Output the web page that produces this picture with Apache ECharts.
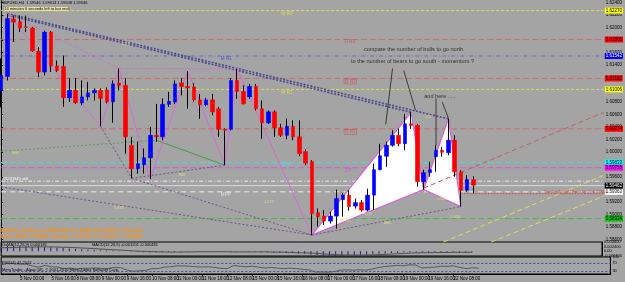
<!DOCTYPE html>
<html><head><meta charset="utf-8">
<script src="https://cdn.jsdelivr.net/npm/echarts@6.0.0/dist/echarts.min.js"></script>
<style>html,body{margin:0;padding:0;background:#a4a4a4;overflow:hidden}#c{width:625px;height:282px}</style>
</head><body><div id="c"></div>
<script>
// ================= DATA =================
const slotCount = 98;
const candleOpen = [1.6099,1.61214,1.62134,1.62094,1.62006,1.6199,1.61614,1.61286,1.61926,1.61382,
1.61374,1.6087,1.6099,1.6079,1.60886,1.6095,1.6099,1.60998,1.60806,1.6111,
1.6107,1.6011,1.59734,1.59798,1.5991,1.6027,1.60246,1.60766,1.60806,1.6111,
1.61054,1.61046,1.60838,1.60758,1.60838,1.60694,1.60366,1.60366,1.6115,1.60974,
1.60886,1.61054,1.60694,1.6047,1.60646,1.6039,1.6027,1.60414,1.60246,1.60006,
1.59846,1.5903,1.58974,1.58894,1.58974,1.59238,1.5931,1.59134,1.5919,1.5907,
1.5931,1.59718,1.59934,1.6011,1.6027,1.60134,1.60454,1.6043,1.59526,1.5967,
1.59926,1.6003,1.5999,1.6019,1.59686,1.5939,1.59558];
const candleClose = [1.6123,1.62142,1.62086,1.6199,1.61998,1.61622,1.61286,1.61926,1.61382,1.6131,
1.6087,1.6099,1.6079,1.60886,1.6095,1.6099,1.60862,1.60806,1.61094,1.6107,
1.60246,1.59734,1.59814,1.5991,1.6027,1.60246,1.60766,1.60814,1.61094,1.61054,
1.6103,1.60838,1.60758,1.60838,1.60646,1.60366,1.6035,1.6115,1.60974,1.60774,
1.61054,1.60694,1.6047,1.60646,1.6039,1.6027,1.60414,1.60246,1.59974,1.59822,
1.59014,1.58966,1.58894,1.58974,1.59254,1.5931,1.59126,1.5919,1.5907,1.5931,
1.59718,1.59942,1.6011,1.6027,1.60134,1.60454,1.6043,1.59526,1.5967,1.59718,
1.6003,1.59998,1.6019,1.59686,1.5939,1.59558,1.5947];
const candleLow = [1.60718,1.6115,1.61766,1.61926,1.61926,1.61606,1.61206,1.6123,1.61286,1.61286,
1.60726,1.60806,1.60774,1.6075,1.6083,1.6083,1.60414,1.60782,1.6047,1.6099,
1.59974,1.5958,1.59654,1.59654,1.5957,1.60166,1.6019,1.60726,1.60774,1.6091,
1.60694,1.60806,1.60534,1.60734,1.6059,1.60246,1.5979,1.6035,1.60854,1.60766,
1.60854,1.6067,1.60214,1.60454,1.60246,1.60246,1.60206,1.6019,1.59934,1.5979,
1.5867,1.58806,1.5883,1.58854,1.58774,1.58966,1.59062,1.59094,1.59046,1.59046,
1.5907,1.5971,1.59766,1.60086,1.60094,1.6003,1.60374,1.59446,1.59398,1.59606,
1.59686,1.59926,1.5995,1.59606,1.59126,1.59366,1.59334];
const candleHigh = [1.61502,1.62222,1.6219,1.6219,1.6219,1.62006,1.61686,1.6195,1.61942,1.6147,
1.6155,1.6119,1.6119,1.6115,1.61126,1.61022,1.61022,1.61038,1.6115,1.61342,
1.6119,1.60246,1.60166,1.6006,1.60406,1.60774,1.60862,1.60966,1.6115,1.6119,
1.61302,1.6111,1.60934,1.6087,1.60934,1.60726,1.6038,1.6119,1.61334,1.6107,
1.61094,1.61094,1.6083,1.6067,1.6067,1.60454,1.60542,1.6051,1.6051,1.60046,
1.5987,1.59094,1.5907,1.59046,1.59398,1.5935,1.5939,1.59254,1.5923,1.59414,
1.59814,1.60134,1.60166,1.6035,1.6038,1.60614,1.60638,1.60454,1.59718,1.59846,
1.6011,1.60086,1.60534,1.6027,1.5971,1.5963,1.59614];

const macdHist = [0.0026,0.0027,0.0027,0.0026,0.0025,0.0024,0.0023,0.0022,0.0021,0.0019,
0.0017,0.0015,0.0013,0.0011,0.0009,0.0007,0.0005,0.0004,0.0003,0.0002,
0.0000,-0.0002,-0.0004,-0.0005,-0.0006,-0.0006,-0.0005,-0.0004,-0.0003,-0.0002,
-0.0002,-0.0001,-0.0001,-0.0002,-0.0002,-0.0003,-0.0004,-0.0003,-0.0002,-0.0002,
-0.0002,-0.0003,-0.0004,-0.0005,-0.0006,-0.0007,-0.0008,-0.0009,-0.0011,-0.0013,
-0.0017,-0.0019,-0.0021,-0.0022,-0.0022,-0.0021,-0.0020,-0.0019,-0.0018,-0.0017,
-0.0015,-0.0013,-0.0011,-0.0009,-0.0007,-0.0005,-0.0005,-0.0006,-0.0006,-0.0006,
-0.0005,-0.0005,-0.0004,-0.0005,-0.0006,-0.0006,-0.0006];
const macdSignal = [0.0018,0.0019,0.0020,0.0021,0.0022,0.0022,0.0023,0.0023,0.0023,0.0022,
0.0021,0.0020,0.0019,0.0017,0.0016,0.0014,0.0012,0.0010,0.0008,0.0007,
0.0005,0.0003,0.0001,0.0000,-0.0001,-0.0002,-0.0003,-0.0004,-0.0004,-0.0004,
-0.0003,-0.0003,-0.0002,-0.0002,-0.0002,-0.0002,-0.0002,-0.0003,-0.0003,-0.0003,
-0.0003,-0.0003,-0.0003,-0.0003,-0.0004,-0.0004,-0.0005,-0.0006,-0.0007,-0.0008,
-0.0009,-0.0011,-0.0013,-0.0015,-0.0017,-0.0018,-0.0019,-0.0019,-0.0019,-0.0019,
-0.0018,-0.0017,-0.0016,-0.0014,-0.0012,-0.0011,-0.0009,-0.0008,-0.0007,-0.0007,
-0.0006,-0.0006,-0.0006,-0.0005,-0.0005,-0.0005,-0.0005];
const rsiValues = [60,68,67,64,64,55,49,58,51,50,
42,44,41,43,44,45,43,42,48,47,
35,29,31,33,42,42,50,51,56,55,
54,51,50,51,48,43,42,57,54,51,
54,49,45,48,44,42,44,42,38,36,
25,25,24,27,34,36,34,36,34,39,
47,52,55,58,56,61,60,45,48,49,
54,53,56,48,42,46,44];

const timeTicks = [[0,'4 Nov 2010'],[3,'5 Nov 00:00'],[8,'5 Nov 16:00'],[12,'8 Nov 08:00'],[16,'9 Nov 00:00'],
[20,'9 Nov 16:00'],[24,'10 Nov 08:00'],[28,'11 Nov 00:00'],[32,'11 Nov 16:00'],[36,'12 Nov 08:00'],
[40,'15 Nov 00:00'],[44,'15 Nov 16:00'],[48,'16 Nov 08:00'],[52,'17 Nov 00:00'],[56,'17 Nov 16:00'],
[60,'18 Nov 08:00'],[64,'19 Nov 00:00'],[68,'19 Nov 16:00'],[72,'22 Nov 08:00'],[76,'23 Nov 00:00']];

// pivot levels
const levelPrices = [1.6227,1.61806,1.61542,1.61182,1.61006,1.60374,1.59833,1.5975,1.59534,1.59462,1.59363,1.58934];
const levelNames  = ['W R2','D R3','M R1','D R2','W R1','D R1','WPP','DP','','','MPP','W S1'];
const levelNameAt = [[44.9,1.62222],[55.1,1.61763],[35.2,1.61497],[55.2,1.61134],[44.9,1.60953],[55.2,1.60323],
                     [44.9,1.59798],[55.2,1.59694],null,null,[35.2,1.5931],[54.4,1.58894]];

// ZUP pattern (index, price)
const zupPath1 = [[1,1.62222],[16,1.60414],[19,1.61342],[24,1.5957]];
const zupPath2 = [[24,1.5957],[30,1.61302],[36,1.5979],[38,1.61334],[50,1.5867]];
const zupTriangles = [
  [[50,1.5867],[66,1.60638],[68,1.59398]],
  [[68,1.59398],[72,1.60534],[74,1.59126]]
];
const navyDotted = [[[1,1.62222],[72,1.60534]],[[1,1.62198],[66,1.60638]]];
const pinkDotted = [[[1,1.62222],[19,1.61342]],[[19,1.61342],[38,1.61334]]];
const purpleDotted = [[[0,1.59443],[50,1.5867]],[[16,1.60414],[21,1.5958]],[[21,1.5958],[36,1.5979]],
                      [[21,1.5958],[50,1.5867]],[[50,1.5867],[74,1.59126]]];
const greenDotted = [[[0,1.60014],[25,1.6019]]];
const greenSolid = [[[25,1.6019],[36,1.5979]]];
const redDashed = [[[68,1.59422],[97,1.60638]]];
const yellowDashed = [[[71.2,1.58558],[97,1.5963]],[[78.9,1.58558],[97,1.59294]]];
const redDotted = [[[74,1.59334],[97,1.59334]]];
const blackLines = [[[63,1.61342],[61.9,1.60446]],[[64.8,1.6131],[66.7,1.6067]],[[70,1.60862],[70,1.6011]],[[71,1.60803],[72,1.60542]]];

const noteTexts = ['compare the number of bulls to go north','to the number of bears to go south - momentum ?','and here .....'];
const noteAt = [[58.4,1.61646],[56.3,1.61454],[68.1,1.60894]];
const fibTexts = ['886','886','1.618','1.272','618','886','0.886','1.618','0.5','1.27'];
const fibAt = [[1.75,1.59987],[28.6,1.59638],[18.1,1.59102],[42.3,1.59198],[58.4,1.59006],[61.6,1.58862],[70.2,1.59246],[72.3,1.5896],[68.3,1.60558],[19.4,1.61742]];
const targetText = 'Gartley Target (Point D) @ 1.59334';
const targetAt = [87.4,1.59366];

// ================= STYLE =================
const FONT = 'Liberation Sans, Arial, sans-serif';
const levelColors = ['#dcdc58','#cc6c6c','#6c6cc8','#cc6c6c','#dcdc58','#cc6c6c','#48dede','#d858d8','#eeeeee','#d8d8d8','#eeeeee','#48b848'];
const levelDash = [[3,2],[6,3],[4,2,1,2],[6,3],[3,2],[6,3],[6,3],[6,3],[4,2,1,2],'solid',[5,4],[6,3]];
const levelBox = ['#ffff00','#ff0000','#0000ff','#ff0000','#ffff00','#ff0000','#00ffff','#ff00ff',null,'#000000','#ffffff','#00c000'];
const levelBoxText = ['#000','#000','#fff','#000','#000','#000','#000','#000','#000','#fff','#000','#000'];
const levelNameColors = ['#e6e64a','#d04848','#4040d0','#d04848','#e6e64a','#d04848','#40e8e8','#e040e0','#fff','#fff','#f0f0f0','#c8e060'];
const levelNameBox = [false,false,false,true,false,true,false,false,false,false,false,false];

const cats = Array.from({length: slotCount}, (_, i) => String(i));
const tickMap = {}; timeTicks.forEach(t => tickMap[t[0]] = t[1]);

const series = [];
function segSeries(segs, lineStyle, z) {
  segs.forEach(seg => series.push({type:'line', xAxisIndex:1, yAxisIndex:0, data:seg, symbol:'none',
    lineStyle, silent:true, z, animation:false, clip:true}));
}
levelPrices.forEach((p, k) => {
  series.push({type:'line', xAxisIndex:1, yAxisIndex:0, data:[[0,p],[97,p]], symbol:'none', silent:true, z:1,
    lineStyle:{color:levelColors[k], width:1, type:levelDash[k]},
    endLabel: levelBox[k] ? {show:true, formatter: p.toFixed(5), backgroundColor: levelBox[k], color: levelBoxText[k],
      fontSize:4.5, fontFamily:FONT, padding:[1,1,0,1], distance:1} : {show:false}
  });
});
series.push({type:'custom', xAxisIndex:1, yAxisIndex:0, z:2, silent:true,
  data: zupTriangles.map(t => [t[0][0], t[0][1]]),
  renderItem: (params, api) => {
    const t = zupTriangles[params.dataIndex];
    return {type:'polygon', shape:{points: t.map(pt => api.coord(pt))},
      style:{fill:'#ffffff', stroke:'#d860d8', lineWidth:1.2}};
  }});
segSeries(navyDotted, {color:'#4a4a90', width:1.6, type:[2,1.5]}, 3);
segSeries(pinkDotted, {color:'#d070d0', width:1, type:[2,1.5]}, 3);
segSeries(purpleDotted, {color:'#705090', width:1, type:[2,2]}, 3);
segSeries(greenDotted, {color:'#50a050', width:1, type:[2,2]}, 3);
segSeries(greenSolid, {color:'#40a040', width:1}, 3);
segSeries(redDashed, {color:'#c06060', width:1, type:[5,3]}, 3);
segSeries(yellowDashed, {color:'#e0e060', width:1, type:[5,3]}, 3);
segSeries(redDotted, {color:'#d04040', width:1, type:[1.5,1.5]}, 3);
segSeries([zupPath1, zupPath2], {color:'#d868d8', width:1}, 3);
series.push({type:'candlestick', xAxisIndex:0, yAxisIndex:0, z:4, barWidth:1, silent:true, clip:false,
  data: candleOpen.map((o, i) => [o, candleClose[i], candleLow[i], candleHigh[i]]),
  itemStyle:{color:'#000', color0:'#000', borderColor:'#000', borderColor0:'#000', borderColorDoji:'#000', borderWidth:1}});
series.push({type:'candlestick', xAxisIndex:0, yAxisIndex:0, z:5, barWidth:4, silent:true, clip:false,
  data: candleOpen.map((o, i) => [o, candleClose[i], Math.min(o, candleClose[i]), Math.max(o, candleClose[i])]),
  itemStyle:{color:'#0000ff', color0:'#ff0000', borderColor:'#0000ff', borderColor0:'#ff0000', borderColorDoji:'#000', borderWidth:0.6}});
segSeries(blackLines, {color:'#202020', width:0.8}, 6);
function textSeries(texts, pos, labelFn, z) {
  series.push({type:'scatter', xAxisIndex:1, yAxisIndex:0, symbolSize:0, silent:true, z,
    data: texts.map((t, k) => pos[k] ? {value: pos[k], name: t, label: labelFn(k)} : null).filter(Boolean),
    label:{show:true, position:'right', distance:0, formatter: p => p.name, fontFamily:FONT}});
}
textSeries(noteTexts, noteAt, k => ({color:'#111', fontSize:5.6}), 7);
textSeries(fibTexts, fibAt, k => ({color:'#e8e878', fontSize:4}), 7);
textSeries(levelNames, levelNameAt, k => ({color:levelNameColors[k], fontSize:4.6,
  borderColor: levelNameBox[k] ? levelNameColors[k] : 'transparent', borderWidth: levelNameBox[k] ? 0.6 : 0, padding:[0,1]}), 7);
textSeries([targetText], [targetAt], k => ({color:'#d03030', fontSize:4}), 7);

series.push({type:'bar', xAxisIndex:2, yAxisIndex:1, data:macdHist, barWidth:1, itemStyle:{color:'#1a1a8a'}, silent:true});
series.push({type:'line', xAxisIndex:2, yAxisIndex:1, data:macdSignal, symbol:'none', lineStyle:{color:'#505050', width:1}, silent:true});
series.push({type:'line', xAxisIndex:3, yAxisIndex:2, data:rsiValues, symbol:'none', lineStyle:{color:'#5a5a5a', width:1}, silent:true,
  markLine:{silent:true, symbol:'none', label:{show:false}, lineStyle:{color:'#4a4ab0', type:[2,2], width:1},
    data:[{yAxis:70},{yAxis:30}]}});

const GL = 1.2, GW = 609.2;
const option = {
  animation:false,
  backgroundColor:'#a4a4a4',
  grid:[
    {left:GL, width:GW, top:0, height:251.875, show:false},
    {left:GL, width:GW, top:242, height:14, show:true, borderColor:'#000', borderWidth:1, backgroundColor:'transparent'},
    {left:GL, width:GW, top:257, height:17, show:true, borderColor:'#000', borderWidth:1, backgroundColor:'transparent'}
  ],
  xAxis:[
    {type:'category', gridIndex:0, data:cats, boundaryGap:false, show:false},
    {type:'value', gridIndex:0, min:0, max:97, show:false},
    {type:'category', gridIndex:1, data:cats, boundaryGap:false, show:false},
    {type:'category', gridIndex:2, data:cats, boundaryGap:false,
      axisLine:{show:true, lineStyle:{color:'#000'}},
      axisTick:{show:true, length:2, interval:(i) => tickMap[i] !== undefined, lineStyle:{color:'#000'}},
      axisLabel:{show:true, interval:(i) => tickMap[i] !== undefined, formatter:(v, i) => tickMap[i] || '',
        fontSize:4.5, color:'#000', fontFamily:FONT, align:'left', margin:2}}
  ],
  yAxis:[
    {type:'value', gridIndex:0, position:'right', min:1.584, max:1.6243, interval:0.002, splitLine:{show:false},
      axisLine:{show:true, lineStyle:{color:'#000'}}, axisTick:{show:true, length:2, inside:false, lineStyle:{color:'#000'}},
      axisLabel:{fontSize:4.5, color:'#000', fontFamily:FONT, margin:2, showMinLabel:false, showMaxLabel:false, formatter:v => v.toFixed(5)}},
    {type:'value', gridIndex:1, position:'right', min:-0.0024, max:0.0048, interval:0.0024, splitLine:{show:false},
      axisLine:{show:true, lineStyle:{color:'#000'}}, axisTick:{show:false},
      axisLabel:{fontSize:4, color:'#000', fontFamily:FONT, margin:2, formatter:v => (v === 0 ? '0.00' : v.toFixed(6))}},
    {type:'value', gridIndex:2, position:'right', min:15, max:100, interval:5, splitLine:{show:false},
      axisLine:{show:true, lineStyle:{color:'#000'}}, axisTick:{show:false},
      axisLabel:{fontSize:4, color:'#000', fontFamily:FONT, margin:2, formatter:v => ([100,70,30].indexOf(Math.round(v)) >= 0 ? String(Math.round(v)) : '')}}
  ],
  graphic:[
    {type:'text', left:1, top:1, z:10, style:{text:'GBPUSD,H4  1.59546 1.59614 1.59508 1.59546', fontSize:4, fill:'#000', fontFamily:FONT}},
    {type:'text', left:3, top:7, z:10, style:{text:'(14 minutes 6 seconds left to bar end)', fontSize:4, fill:'#000', fontFamily:FONT, backgroundColor:'#e8e0a0'}},
    {type:'text', left:3, top:177, z:10, style:{text:'#5231945 sell', fontSize:4, fill:'#fff', fontFamily:FONT}},
    {type:'text', left:1, top:228, z:10, style:{text:'Bullish Gartley on GBPUSD H4, W88_ZUP_INFO_v83.mq4', fontSize:5.2, fontWeight:'bold', fill:'#ff9010', fontFamily:FONT}},
    {type:'text', left:1, top:234, z:10, style:{text:'Entry Risk: 0.00660 , Range: 1.58748 to 1.59314 = 0.00566', fontSize:5.2, fontWeight:'bold', fill:'#ff9010', fontFamily:FONT}},
    {type:'text', left:2, top:243, z:10, style:{text:'OsMA(12,26,9) 0.000181', fontSize:4, fill:'#000', fontFamily:FONT}},
    {type:'text', left:92, top:243, z:10, style:{text:'MACD(12,26,9) -0.001201 -0.000481', fontSize:4, fill:'#000', fontFamily:FONT}},
    {type:'text', left:2, top:261, z:10, style:{text:'RSI(14) 42.2547', fontSize:4, fill:'#000', fontFamily:FONT}},
    {type:'text', left:2, top:268, z:10, style:{text:'MetaTrader - Alpari UK, \u00a9 2001-2010 MetaQuotes Software Corp.', fontSize:4, fill:'#000', fontFamily:FONT}}
  ],
  series
};
const chart = echarts.init(document.getElementById('c'), null, {renderer:'canvas'});
chart.setOption(option);
</script>
</body></html>
